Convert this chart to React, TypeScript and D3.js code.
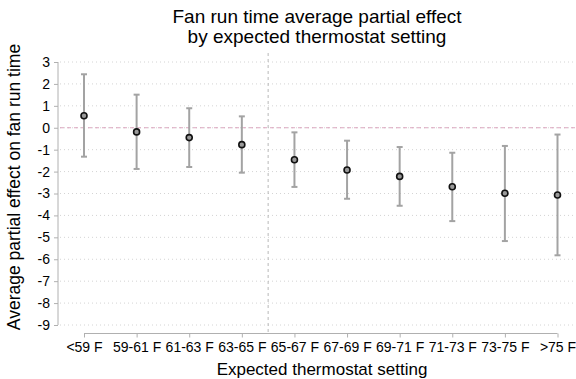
import { useEffect, useRef } from "react";
import * as d3 from "d3";

const categories = ["<59 F", "59-61 F", "61-63 F", "63-65 F", "65-67 F", "67-69 F", "69-71 F", "71-73 F", "73-75 F", ">75 F"];
const estimates = [0.55, -0.19, -0.45, -0.77, -1.46, -1.93, -2.22, -2.69, -2.99, -3.07];
const upper = [2.44, 1.51, 0.89, 0.52, -0.21, -0.59, -0.88, -1.14, -0.83, -0.31];
const lower = [-1.32, -1.88, -1.79, -2.05, -2.7, -3.24, -3.56, -4.26, -5.17, -5.82];
const yTicks = [3, 2, 1, 0, -1, -2, -3, -4, -5, -6, -7, -8, -9];

const W = 576;
const H = 379;
const FONT = "'Liberation Sans', Arial, sans-serif";

export default function App() {
  const svgRef = useRef<SVGSVGElement>(null);

  useEffect(() => {
    const svg = d3.select(svgRef.current);
    svg.selectAll("*").remove();

    const x = d3.scalePoint<string>().domain(categories).range([84, 557.5]);
    const y = d3.scaleLinear().domain([-9, 3]).range([325, 62]);
    const axisX = 58;
    const axisY = 333.5;

    // gridlines
    svg
      .append("g")
      .selectAll("line")
      .data(yTicks)
      .join("line")
      .attr("x1", axisX + 2)
      .attr("x2", W)
      .attr("y1", (d) => y(d))
      .attr("y2", (d) => y(d))
      .attr("stroke", "#d4d4d4")
      .attr("stroke-width", 1)
      .attr("stroke-dasharray", "1,3");

    // zero line
    svg
      .append("line")
      .attr("x1", axisX + 2)
      .attr("x2", W)
      .attr("y1", y(0))
      .attr("y2", y(0))
      .attr("stroke", "#dca6bf")
      .attr("stroke-width", 1.2)
      .attr("stroke-dasharray", "4,3");

    // vertical reference line between 63-65 and 65-67
    const xv = ((x("63-65 F") as number) + (x("65-67 F") as number)) / 2;
    svg
      .append("line")
      .attr("x1", xv)
      .attr("x2", xv)
      .attr("y1", 53)
      .attr("y2", axisY)
      .attr("stroke", "#b8b8b8")
      .attr("stroke-width", 1)
      .attr("stroke-dasharray", "3,3");

    // y axis
    const yAxis = svg.append("g").attr("transform", `translate(${axisX},0)`);
    yAxis
      .call(d3.axisLeft(y).tickValues(yTicks).tickSize(4).tickFormat((d) => String(d)))
      .call((g) => g.select(".domain").attr("stroke", "#b0b0b0").attr("d", `M0,${y(3)}V${y(-9)}`))
      .call((g) => g.selectAll(".tick line").attr("stroke", "#b0b0b0"))
      .call((g) =>
        g.selectAll(".tick text").attr("font-family", FONT).attr("font-size", 14).attr("fill", "#000").attr("x", -8)
      );

    // x axis
    const xAxis = svg.append("g").attr("transform", `translate(0,${axisY})`);
    xAxis
      .call(d3.axisBottom(x).tickSize(4).tickPadding(5))
      .call((g) => g.select(".domain").attr("stroke", "#b0b0b0").attr("d", `M${x(categories[0])},0H${x(categories[9])}`))
      .call((g) => g.selectAll(".tick line").attr("stroke", "#b0b0b0"))
      .call((g) => g.selectAll(".tick text").attr("font-family", FONT).attr("font-size", 14).attr("fill", "#000"));

    const data = categories.map((c, i) => ({ c, est: estimates[i], lo: lower[i], hi: upper[i] }));

    // error bars
    const bars = svg.append("g").selectAll("g").data(data).join("g");
    bars
      .append("line")
      .attr("x1", (d) => x(d.c) as number)
      .attr("x2", (d) => x(d.c) as number)
      .attr("y1", (d) => y(d.hi))
      .attr("y2", (d) => y(d.lo))
      .attr("stroke", "#a3a3a3")
      .attr("stroke-width", 2);
    bars
      .selectAll(".cap")
      .data((d) => [d.hi, d.lo].map((v) => ({ c: d.c, v })))
      .join("line")
      .attr("class", "cap")
      .attr("x1", (d) => (x(d.c) as number) - 3)
      .attr("x2", (d) => (x(d.c) as number) + 3)
      .attr("y1", (d) => y(d.v))
      .attr("y2", (d) => y(d.v))
      .attr("stroke", "#a3a3a3")
      .attr("stroke-width", 2);

    // points
    svg
      .append("g")
      .selectAll("circle")
      .data(data)
      .join("circle")
      .attr("cx", (d) => x(d.c) as number)
      .attr("cy", (d) => y(d.est))
      .attr("r", 3)
      .attr("fill", "#9a9a9a")
      .attr("stroke", "#111")
      .attr("stroke-width", 1.6);

    // titles
    const title = svg.append("text").attr("font-family", FONT).attr("font-size", 19).attr("text-anchor", "middle");
    title.append("tspan").attr("x", 317).attr("y", 23).text("Fan run time average partial effect");
    title.append("tspan").attr("x", 317).attr("y", 43).text("by expected thermostat setting");

    svg
      .append("text")
      .attr("font-family", FONT)
      .attr("font-size", 17)
      .attr("text-anchor", "middle")
      .attr("x", 322)
      .attr("y", 375)
      .text("Expected thermostat setting");

    svg
      .append("text")
      .attr("font-family", FONT)
      .attr("font-size", 17.5)
      .attr("text-anchor", "middle")
      .attr("transform", `translate(20,187) rotate(-90)`)
      .text("Average partial effect on fan run time");
  }, []);

  return (
    <svg
      ref={svgRef}
      width={W}
      height={H}
      style={{ position: "absolute", left: 0, top: 0, background: "#fff" }}
    />
  );
}
